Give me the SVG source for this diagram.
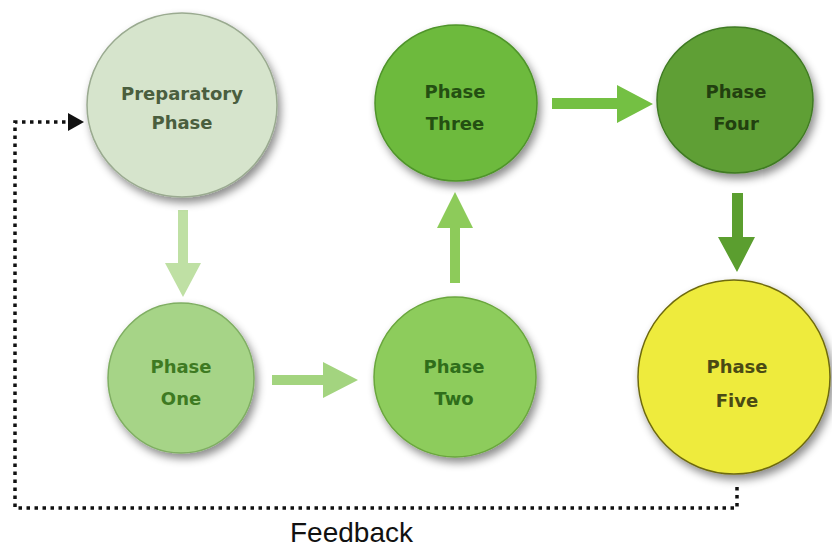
<svg xmlns="http://www.w3.org/2000/svg" width="832" height="548" viewBox="0 0 832 548">
<style>
.lbl{font-family:"DejaVu Sans","Liberation Sans",sans-serif;font-weight:bold;font-size:18px;text-anchor:middle}
.node{stroke-width:1.5}
.fb{fill:none;stroke:#111;stroke-width:3.5;stroke-dasharray:3.5 4.5}
</style>
<defs>
<filter id="sh" x="-20%" y="-20%" width="150%" height="150%">
<feDropShadow dx="3" dy="5" stdDeviation="4" flood-color="#000" flood-opacity="0.45"/>
</filter>
</defs>
<rect width="832" height="548" fill="#fff"/>
<g id="connectors">
<path d="M178,210 H188 V263 H201 L183,297 L165,263 H178 Z" fill="#bfe0a4"/>
<path d="M272,375 H323 V362 L358,380 L323,398 V385 H272 Z" fill="#a3d47f"/>
<path d="M450,283 V228 H437 L455,192 L473,228 H460 V283 Z" fill="#8dcb5a"/>
<path d="M552,98 H617 V85 L653,104 L617,123 V109 H552 Z" fill="#74c043"/>
<path d="M732,193 H743 V237 H755 L737,272 L718,237 H732 Z" fill="#5b9e2f"/>
<path class="fb" d="M737,487 V508 H15 V122 H70"/>
<polygon points="68,113 84,122 68,131" fill="#111"/>
<text x="290" y="542" font-family="Liberation Sans, Arial, sans-serif" font-size="28" fill="#111">Feedback</text>
</g>
<g id="preparatory">
<ellipse class="node" cx="182" cy="105" rx="95" ry="92" fill="#d6e4cc" stroke="#9aaa90" filter="url(#sh)"/>
<text class="lbl" x="182" y="100" fill="#4a5e3e">Preparatory</text>
<text class="lbl" x="182" y="129" fill="#4a5e3e">Phase</text>
</g>
<g id="phase-one">
<ellipse class="node" cx="181" cy="378" rx="73" ry="75" fill="#a6d487" stroke="#7fae62" filter="url(#sh)"/>
<text class="lbl" x="181" y="373" fill="#3e7a22">Phase</text>
<text class="lbl" x="181" y="405" fill="#3e7a22">One</text>
</g>
<g id="phase-two">
<ellipse class="node" cx="455" cy="377" rx="81" ry="80" fill="#8dcc5c" stroke="#6aa63e" filter="url(#sh)"/>
<text class="lbl" x="454" y="373" fill="#2f6e1a">Phase</text>
<text class="lbl" x="454" y="405" fill="#2f6e1a">Two</text>
</g>
<g id="phase-three">
<ellipse class="node" cx="456" cy="103" rx="81" ry="78" fill="#6dba3e" stroke="#4f942a" filter="url(#sh)"/>
<text class="lbl" x="455" y="98" fill="#244f12">Phase</text>
<text class="lbl" x="455" y="130" fill="#244f12">Three</text>
</g>
<g id="phase-four">
<ellipse class="node" cx="735" cy="100" rx="78" ry="73" fill="#5e9f36" stroke="#3f7a22" filter="url(#sh)"/>
<text class="lbl" x="736" y="98" fill="#22400f">Phase</text>
<text class="lbl" x="736" y="130" fill="#22400f">Four</text>
</g>
<g id="phase-five">
<ellipse class="node" cx="734" cy="377" rx="96" ry="97" fill="#eeeb3c" stroke="#6e6a10" filter="url(#sh)"/>
<text class="lbl" x="737" y="373" fill="#4a4a14">Phase</text>
<text class="lbl" x="737" y="407" fill="#4a4a14">Five</text>
</g>
</svg>
